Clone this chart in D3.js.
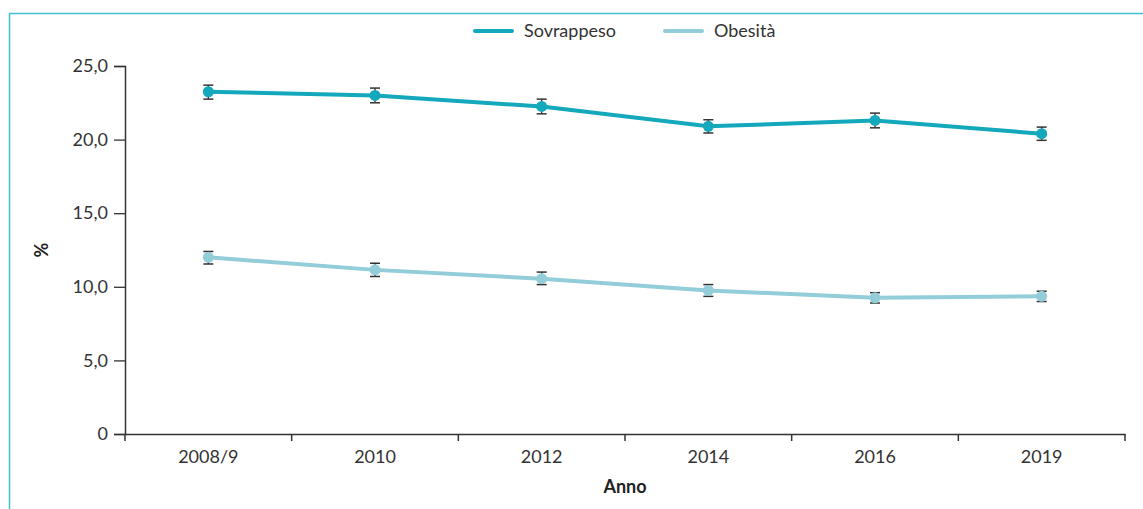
<!DOCTYPE html>
<html><head><meta charset="utf-8">
<script src="https://cdn.jsdelivr.net/npm/d3@7"></script>
<style>
body{margin:0;background:#fff;}
svg{display:block;font-family:Lato, "Open Sans", sans-serif;}
</style></head>
<body><svg id="c" width="1143" height="509"></svg>
<script>
const categories = ["2008/9","2010","2012","2014","2016","2019"];
const sovrappeso = [23.25, 23.0, 22.25, 20.9, 21.3, 20.4];
const sovrLow =    [22.75, 22.5, 21.75, 20.45, 20.8, 19.95];
const sovrHigh =   [23.7, 23.5, 22.75, 21.35, 21.8, 20.85];
const obesita =    [12.0, 11.15, 10.55, 9.75, 9.25, 9.35];
const obesLow =    [11.55, 10.7, 10.15, 9.35, 8.9, 9.0];
const obesHigh =   [12.4, 11.6, 11.0, 10.15, 9.6, 9.7];
const yTicks = [0, 5, 10, 15, 20, 25];
const seriesNames = ["Sovrappeso","Obesità"];
const colors = ["#13a8bb","#93cdd9"];

const svg = d3.select("#c");
// frame
svg.append("path").attr("d","M9.5,509 V13.5 H1143").attr("fill","none").attr("stroke","#3fbfcf").attr("stroke-width",1.5);

const mLeft=125, mRight=1125, mTop=66, mBottom=434;
const x = d3.scaleBand().domain(categories).range([mLeft,mRight]);
const y = d3.scaleLinear().domain([0,25]).range([mBottom,mTop]);

const axisColor="#333";
const fmt = v => v===0 ? "0" : d3.format(".1f")(v).replace(".",",");
const ya = svg.append("g").attr("transform",`translate(${mLeft},0)`)
  .call(d3.axisLeft(y).tickValues(yTicks).tickFormat(fmt).tickSizeOuter(0).tickSize(11).tickPadding(6));
ya.select(".domain").attr("stroke",axisColor).attr("stroke-width",1.5);
ya.selectAll(".tick line").attr("stroke",axisColor).attr("stroke-width",1.3);
ya.selectAll("text").attr("font-size",18).attr("fill","#333").attr("font-family","Lato");

const xa = svg.append("g").attr("transform",`translate(0,${mBottom})`)
  .call(d3.axisBottom(x).tickSize(0).tickSizeOuter(0).tickPadding(16));
xa.select(".domain").attr("stroke",axisColor).attr("stroke-width",1.5);
xa.selectAll("text").attr("font-size",18).attr("fill","#333").attr("font-family","Lato");
// band-edge ticks
const edges = categories.map(c=>x(c)).concat([x(categories[categories.length-1])+x.bandwidth()]);
svg.append("g").selectAll("line").data(edges).join("line")
  .attr("x1",d=>d).attr("x2",d=>d).attr("y1",mBottom).attr("y2",mBottom+7)
  .attr("stroke",axisColor).attr("stroke-width",1.5);

svg.append("text").attr("x",(mLeft+mRight)/2).attr("y",493).attr("text-anchor","middle")
  .attr("font-size",18).attr("font-weight","bold").attr("fill","#222").text("Anno");
svg.append("text").attr("transform","translate(48,250) rotate(-90)").attr("text-anchor","middle")
  .attr("font-size",18).attr("font-weight","bold").attr("fill","#222").text("%");

const cx = c => x(c)+x.bandwidth()/2;
const data = [
  {vals:sovrappeso, lo:sovrLow, hi:sovrHigh, color:colors[0]},
  {vals:obesita, lo:obesLow, hi:obesHigh, color:colors[1]}
];
const line = d3.line().x(d=>cx(d.c)).y(d=>y(d.v));
data.forEach(s=>{
  const pts = categories.map((c,i)=>({c, v:s.vals[i], lo:s.lo[i], hi:s.hi[i]}));
  svg.append("path").datum(pts).attr("d",line).attr("fill","none").attr("stroke",s.color).attr("stroke-width",4);
  const g = svg.append("g");
  g.selectAll("line.v").data(pts).join("line").attr("x1",d=>cx(d.c)).attr("x2",d=>cx(d.c))
    .attr("y1",d=>y(d.lo)).attr("y2",d=>y(d.hi)).attr("stroke","#333").attr("stroke-width",1.3);
  ["lo","hi"].forEach(k=>{
    g.selectAll("line."+k).data(pts).join("line").attr("class",k).attr("x1",d=>cx(d.c)-5).attr("x2",d=>cx(d.c)+5)
      .attr("y1",d=>y(d[k])).attr("y2",d=>y(d[k])).attr("stroke","#333").attr("stroke-width",1.5);
  });
  g.selectAll("circle").data(pts).join("circle").attr("cx",d=>cx(d.c)).attr("cy",d=>y(d.v))
    .attr("r",5.5).attr("fill",s.color);
});

// legend
const lx=[475,665];
seriesNames.forEach((n,i)=>{
  svg.append("line").attr("x1",lx[i]).attr("x2",lx[i]+37).attr("y1",31).attr("y2",31)
    .attr("stroke",colors[i]).attr("stroke-width",4).attr("stroke-linecap","round");
  svg.append("text").attr("x",lx[i]+49).attr("y",37).attr("font-size",18).attr("fill","#333").text(n);
});
</script></body></html>
